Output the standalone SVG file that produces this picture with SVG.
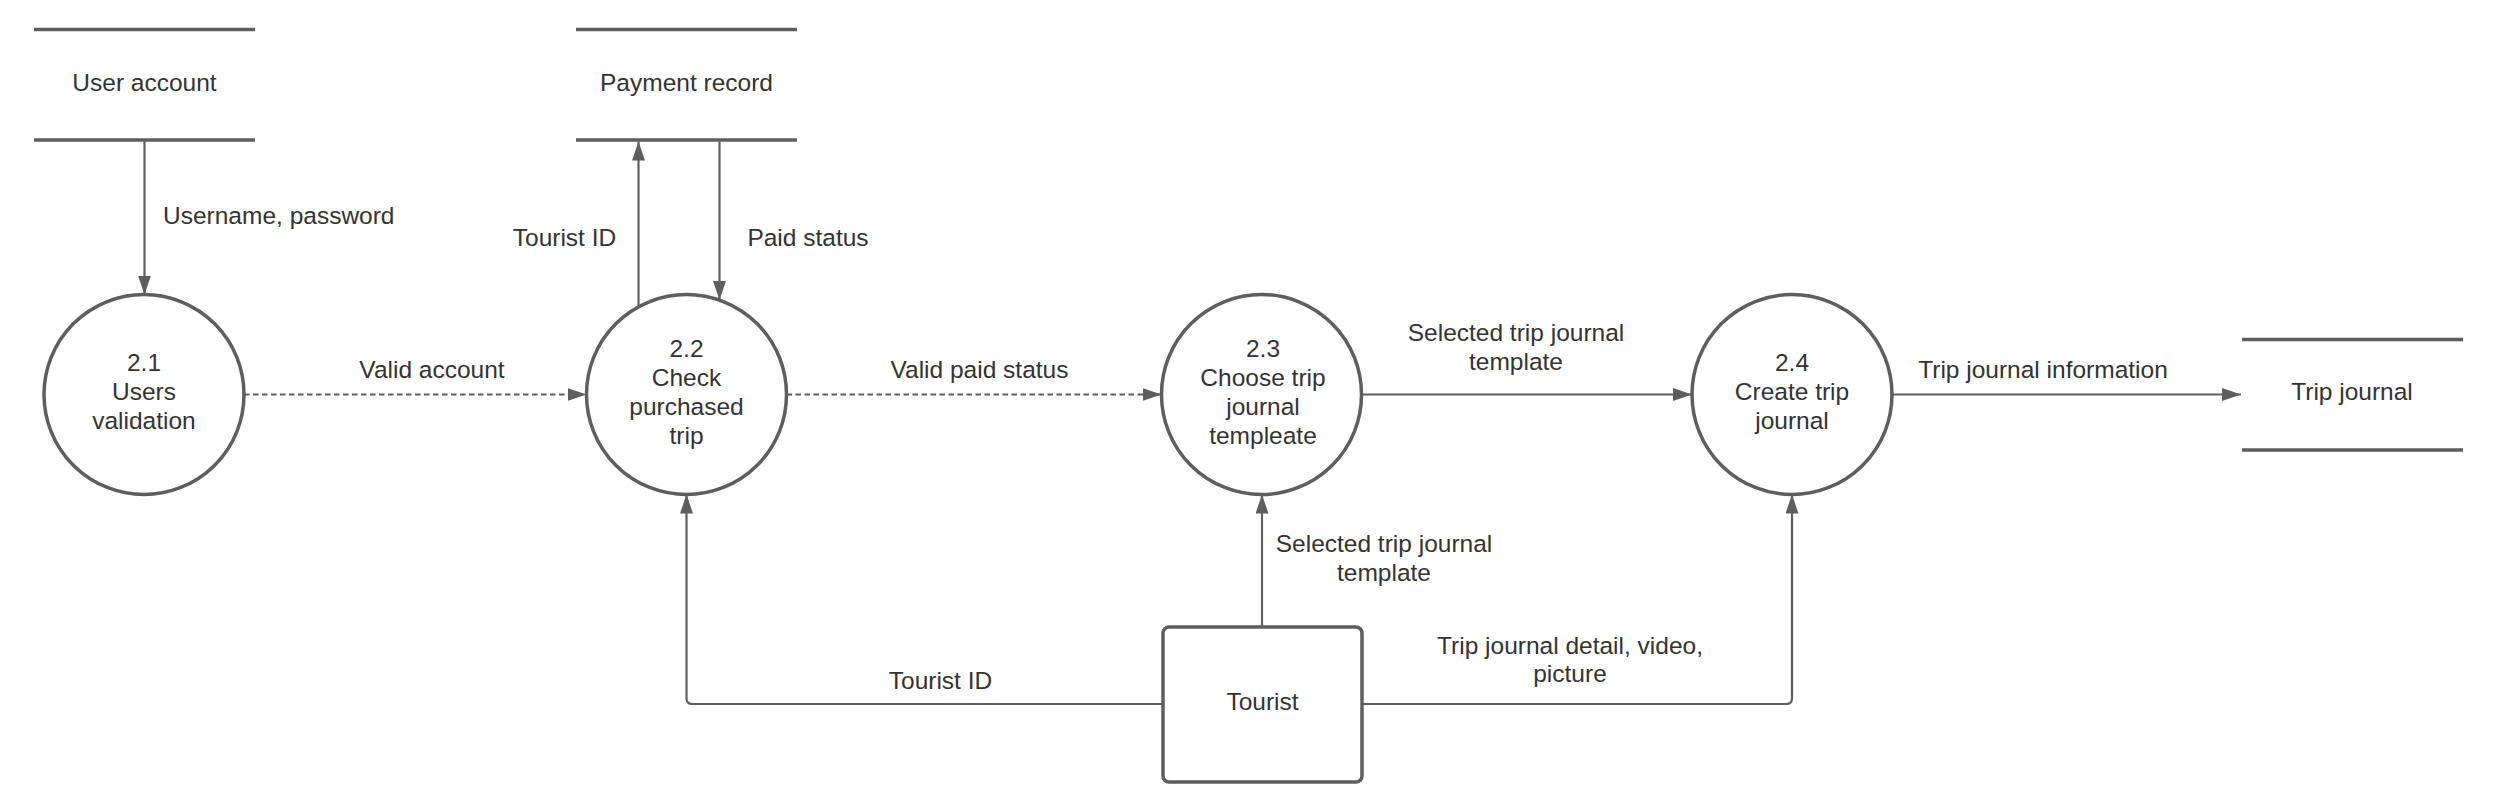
<svg xmlns="http://www.w3.org/2000/svg" width="2504" height="811" viewBox="0 0 2504 811">
<style>
.t{font-family:"Liberation Sans",Arial,sans-serif;font-size:24.5px;fill:#333333;text-anchor:middle}
.ts{text-anchor:start}
.proc{fill:#ffffff;stroke:#5e5e5e;stroke-width:3.5}
.store{stroke:#5e5e5e;stroke-width:3.5;fill:none}
.ent{fill:#ffffff;stroke:#5e5e5e;stroke-width:3.5}
.c{fill:none;stroke:#5e5e5e;stroke-width:2.2;marker-end:url(#arr)}
.d{stroke-dasharray:5.5,3.5}
</style>
<defs>
<marker id="arr" markerUnits="userSpaceOnUse" markerWidth="20" markerHeight="14" refX="19" refY="6.5" orient="auto">
<path d="M0,0 L19,6.5 L0,13 z" fill="#5e5e5e"/>
</marker>
</defs>
<rect width="2504" height="811" fill="#ffffff"/>
<g id="connectors">
<path class="c" d="M144.5,141 V294.5"/>
<path class="c" d="M638.5,306.8 V141.5"/>
<path class="c" d="M719.5,141.5 V300"/>
<path class="c d" d="M244,394.5 H586.5"/>
<path class="c d" d="M786.5,394.5 H1161.5"/>
<path class="c" d="M1361.5,394.5 H1692"/>
<path class="c" d="M1892,394.5 H2241"/>
<path class="c" d="M1262,627 V494.5"/>
<path class="c" d="M1163,704 H692 Q686.5,704 686.5,698.5 V494.5"/>
<path class="c" d="M1362,704 H1786.5 Q1792,704 1792,698.5 V494.5"/>
<text class="t ts" x="163" y="223.5">Username, password</text>
<text class="t" x="564.5" y="246">Tourist ID</text>
<text class="t" x="808" y="246">Paid status</text>
<text class="t" x="432" y="378">Valid account</text>
<text class="t" x="979.5" y="378">Valid paid status</text>
<text class="t" x="1516" y="341">Selected trip journal</text>
<text class="t" x="1516" y="370">template</text>
<text class="t" x="2043" y="378">Trip journal information</text>
<text class="t" x="1384" y="551.5">Selected trip journal</text>
<text class="t" x="1384" y="580.5">template</text>
<text class="t" x="940.5" y="688.5">Tourist ID</text>
<text class="t" x="1570" y="653.5">Trip journal detail, video,</text>
<text class="t" x="1570" y="682">picture</text>
</g>
<g id="store-user-account">
<path class="store" d="M34,29.5 H255 M34,140 H255"/>
<text class="t" x="144.5" y="91">User account</text>
</g>
<g id="store-payment-record">
<path class="store" d="M576,29.5 H797 M576,140 H797"/>
<text class="t" x="686.5" y="91">Payment record</text>
</g>
<g id="store-trip-journal">
<path class="store" d="M2242,339.5 H2463 M2242,450 H2463"/>
<text class="t" x="2352" y="400">Trip journal</text>
</g>
<g id="p2-1">
<circle class="proc" cx="144" cy="394.5" r="100"/>
<text class="t" x="144" y="371">2.1</text>
<text class="t" x="144" y="400">Users</text>
<text class="t" x="144" y="429">validation</text>
</g>
<g id="p2-2">
<circle class="proc" cx="686.5" cy="394.5" r="100"/>
<text class="t" x="686.5" y="357">2.2</text>
<text class="t" x="686.5" y="386">Check</text>
<text class="t" x="686.5" y="415">purchased</text>
<text class="t" x="686.5" y="444">trip</text>
</g>
<g id="p2-3">
<circle class="proc" cx="1261.5" cy="394.5" r="100"/>
<text class="t" x="1263" y="357">2.3</text>
<text class="t" x="1263" y="386">Choose trip</text>
<text class="t" x="1263" y="415">journal</text>
<text class="t" x="1263" y="444">templeate</text>
</g>
<g id="p2-4">
<circle class="proc" cx="1792" cy="394.5" r="100"/>
<text class="t" x="1792" y="371">2.4</text>
<text class="t" x="1792" y="400">Create trip</text>
<text class="t" x="1792" y="429">journal</text>
</g>
<g id="tourist">
<rect class="ent" x="1163" y="627" width="199" height="155" rx="6"/>
<text class="t" x="1262.5" y="710">Tourist</text>
</g>
</svg>
